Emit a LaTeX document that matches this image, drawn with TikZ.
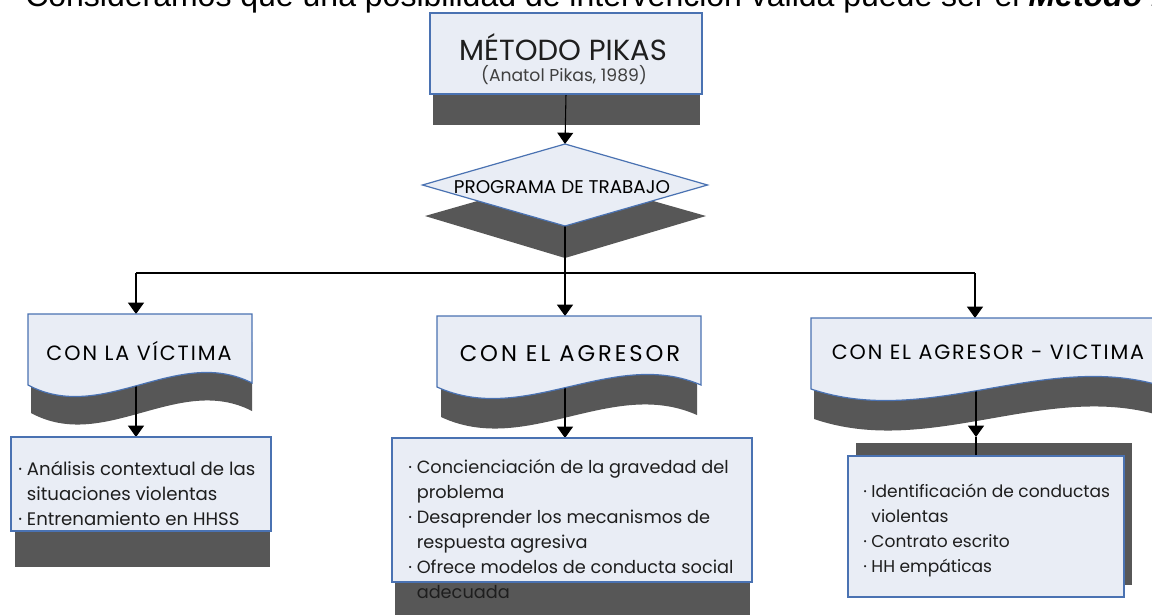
\documentclass[tikz,border=0pt]{standalone}
\usepackage{fontspec}
\setmainfont{Liberation Sans}
\newfontfamily\geo{Poppins}
\usetikzlibrary{arrows.meta,shapes.geometric}
\definecolor{boxfill}{HTML}{E9EDF5}
\definecolor{boxline}{HTML}{4A72B2}
\definecolor{shade}{HTML}{575757}
\definecolor{ink}{HTML}{1E1E1E}
\newcommand\wavepath[4]{(#1,#2) -- (#3,#2) -- (#3,{#4-2}) .. controls ({#1+(#3-#1)*2/3},{#4-40}) and ({#1+(#3-#1)/3},{#4+40}) .. (#1,#4) -- cycle}
\begin{document}
\begin{tikzpicture}[x=0.75pt,y=-0.75pt,
  arr/.style={-{Triangle[width=12pt,length=8.5pt]}, line width=0.8pt, black},
  conn/.style={line width=0.8pt, black},
  boxstyle/.style={fill=boxfill, draw=boxline, line width=0.9pt},
  anchorbox/.style={inner sep=0pt, outer sep=0pt},
  shadowstyle/.style={fill=shade},
  wavetitle/.style={text=black, anchor=base, inner sep=0pt},
  bodytext/.style={text=ink, align=left, anchor=north west, inner sep=0pt}]
\clip (0,0) rectangle (1152,614);
\fill[white] (0,0) rectangle (1152,614);

% title line (cut off at the top)
\node[anchor=base west, inner sep=0pt, font=\fontsize{24}{28}\selectfont] (title) at (25,7)
  {Consideramos que una posibilidad de intervención válida puede ser el \textbf{\textit{Método Pikas}}};

% ---------- shadows ----------
\fill[shadowstyle] (433,44) rectangle (700,125);
\fill[shadowstyle] (425,216) -- (565,176) -- (706,216) -- (565,258) -- cycle;
\fill[shadowstyle] \wavepath{31}{342}{252}{413};
\fill[shadowstyle] \wavepath{441}{346}{697}{417};
\fill[shadowstyle] \wavepath{814}{348}{1165}{419};
\fill[shadowstyle] (15,531) rectangle (270,567);
\fill[shadowstyle] (395,582) rectangle (750,620);
\fill[shadowstyle] (856,443) rectangle (1132,585);
\draw[gray!45, line width=0.5pt] (200,372) -- (252,372);
\draw[gray!45, line width=0.5pt] (668,374) -- (701,374);
\draw[gray!45, line width=0.5pt] (1088,375) -- (1152,375);

% ---------- named anchor nodes ----------
\node[anchorbox, minimum width=204pt, minimum height=60.75pt] (pikas) at (566,53.5) {};
\node[anchorbox, diamond, minimum width=213.75pt, minimum height=61.5pt] (prog) at (565,185) {};
\node[anchorbox, minimum width=168pt, minimum height=53.25pt] (victima) at (140,349.5) {};
\node[anchorbox, minimum width=198pt, minimum height=53.25pt] (agresor) at (569,351.5) {};
\node[anchorbox, minimum width=265.5pt, minimum height=53.25pt] (agvic) at (988,353.5) {};
\node[anchorbox, minimum width=195pt, minimum height=70.5pt] (ltext) at (141,484) {};
\node[anchorbox, minimum width=270pt, minimum height=108pt] (mtext) at (572,510) {};
\node[anchorbox, minimum width=207pt, minimum height=105.75pt] (rtext) at (986,526.5) {};

\coordinate (hub) at (565,273);
\coordinate (cl) at (136,273);
\coordinate (cm) at (565,273);
\coordinate (cr) at (975,273);
\coordinate (rtip) at (976,437);

% ---------- connectors ----------
\draw[arr] (pikas.south) -- (prog.north);
\draw[conn] (prog.south) -- (hub);
\draw[line width=1.4pt] (cl) -- (cr);
\draw[arr] (cl) -- (cl |- victima.north);
\draw[arr] (cm) -- (cm |- agresor.north);
\draw[arr] (cr) -- (cr |- agvic.north);
\draw[arr] (cl |- victima.center) -- (cl |- ltext.north);
\draw[arr] (cm |- agresor.center) -- (cm |- mtext.north);
\draw[arr] (rtip |- agvic.center) -- (rtip);
\draw[conn] (rtip) -- (rtip |- rtext.north);

% ---------- boxes ----------
\draw[boxstyle] (pikas.north west) rectangle (pikas.south east);
\draw[boxstyle] (prog.north) -- (prog.east) -- (prog.south) -- (prog.west) -- cycle;
\draw[boxstyle] \wavepath{28}{314}{252}{385};
\draw[boxstyle] \wavepath{437}{316}{701}{387};
\draw[boxstyle] \wavepath{811}{318}{1165}{389};
\draw[boxstyle] (ltext.north west) rectangle (ltext.south east);
\draw[boxstyle] (mtext.north west) rectangle (mtext.south east);
\draw[boxstyle] (rtext.north west) rectangle (rtext.south east);

% ---------- texts ----------
\node[anchor=base, inner sep=0pt, font=\geo\fontsize{21.8}{26}\selectfont, text=ink] (pikast) at (563,60) {MÉTODO PIKAS};
\node[anchor=base, inner sep=0pt, font=\geo\fontsize{12.9}{15}\selectfont, text=ink!85] (pikass) at (564,81) {(Anatol Pikas, 1989)};
\node[anchor=base, inner sep=0pt, font=\geo\fontsize{13.8}{16}\selectfont, text=black] (progt) at (562,193) {PROGRAMA DE TRABAJO};
\node[wavetitle, font=\geo\fontsize{15.5}{18}\selectfont\addfontfeatures{LetterSpace=9.5}] (victimat) at (139,360) {CON LA VÍCTIMA};
\node[wavetitle, font=\geo\fontsize{17}{20}\selectfont\addfontfeatures{LetterSpace=13}] (agresort) at (570,361) {CON EL AGRESOR};
\node[wavetitle, font=\geo\fontsize{15.5}{18}\selectfont\addfontfeatures{LetterSpace=9}] (agvict) at (988,359) {CON EL AGRESOR - VICTIMA};

\node[bodytext, font=\geo\fontsize{13.6}{18.75}\selectfont] (ltextt) at (18,{475-17.5}) {\strut· Análisis contextual de las\\\hphantom{·\ }situaciones violentas\\· Entrenamiento en HHSS};
\node[bodytext, font=\geo\fontsize{13.3}{18.75}\selectfont] (mtextt) at (408,{473-17.5}) {\strut· Concienciación de la gravedad del\\\hphantom{·\ }problema\\· Desaprender los mecanismos de\\\hphantom{·\ }respuesta agresiva\\· Ofrece modelos de conducta social\\\hphantom{·\ }adecuada};
\node[bodytext, font=\geo\fontsize{12.8}{18.75}\selectfont] (rtextt) at (863,{497-17.5}) {\strut· Identificación de conductas\\\hphantom{·\ }violentas\\· Contrato escrito\\· HH empáticas};
\end{tikzpicture}
\end{document}
